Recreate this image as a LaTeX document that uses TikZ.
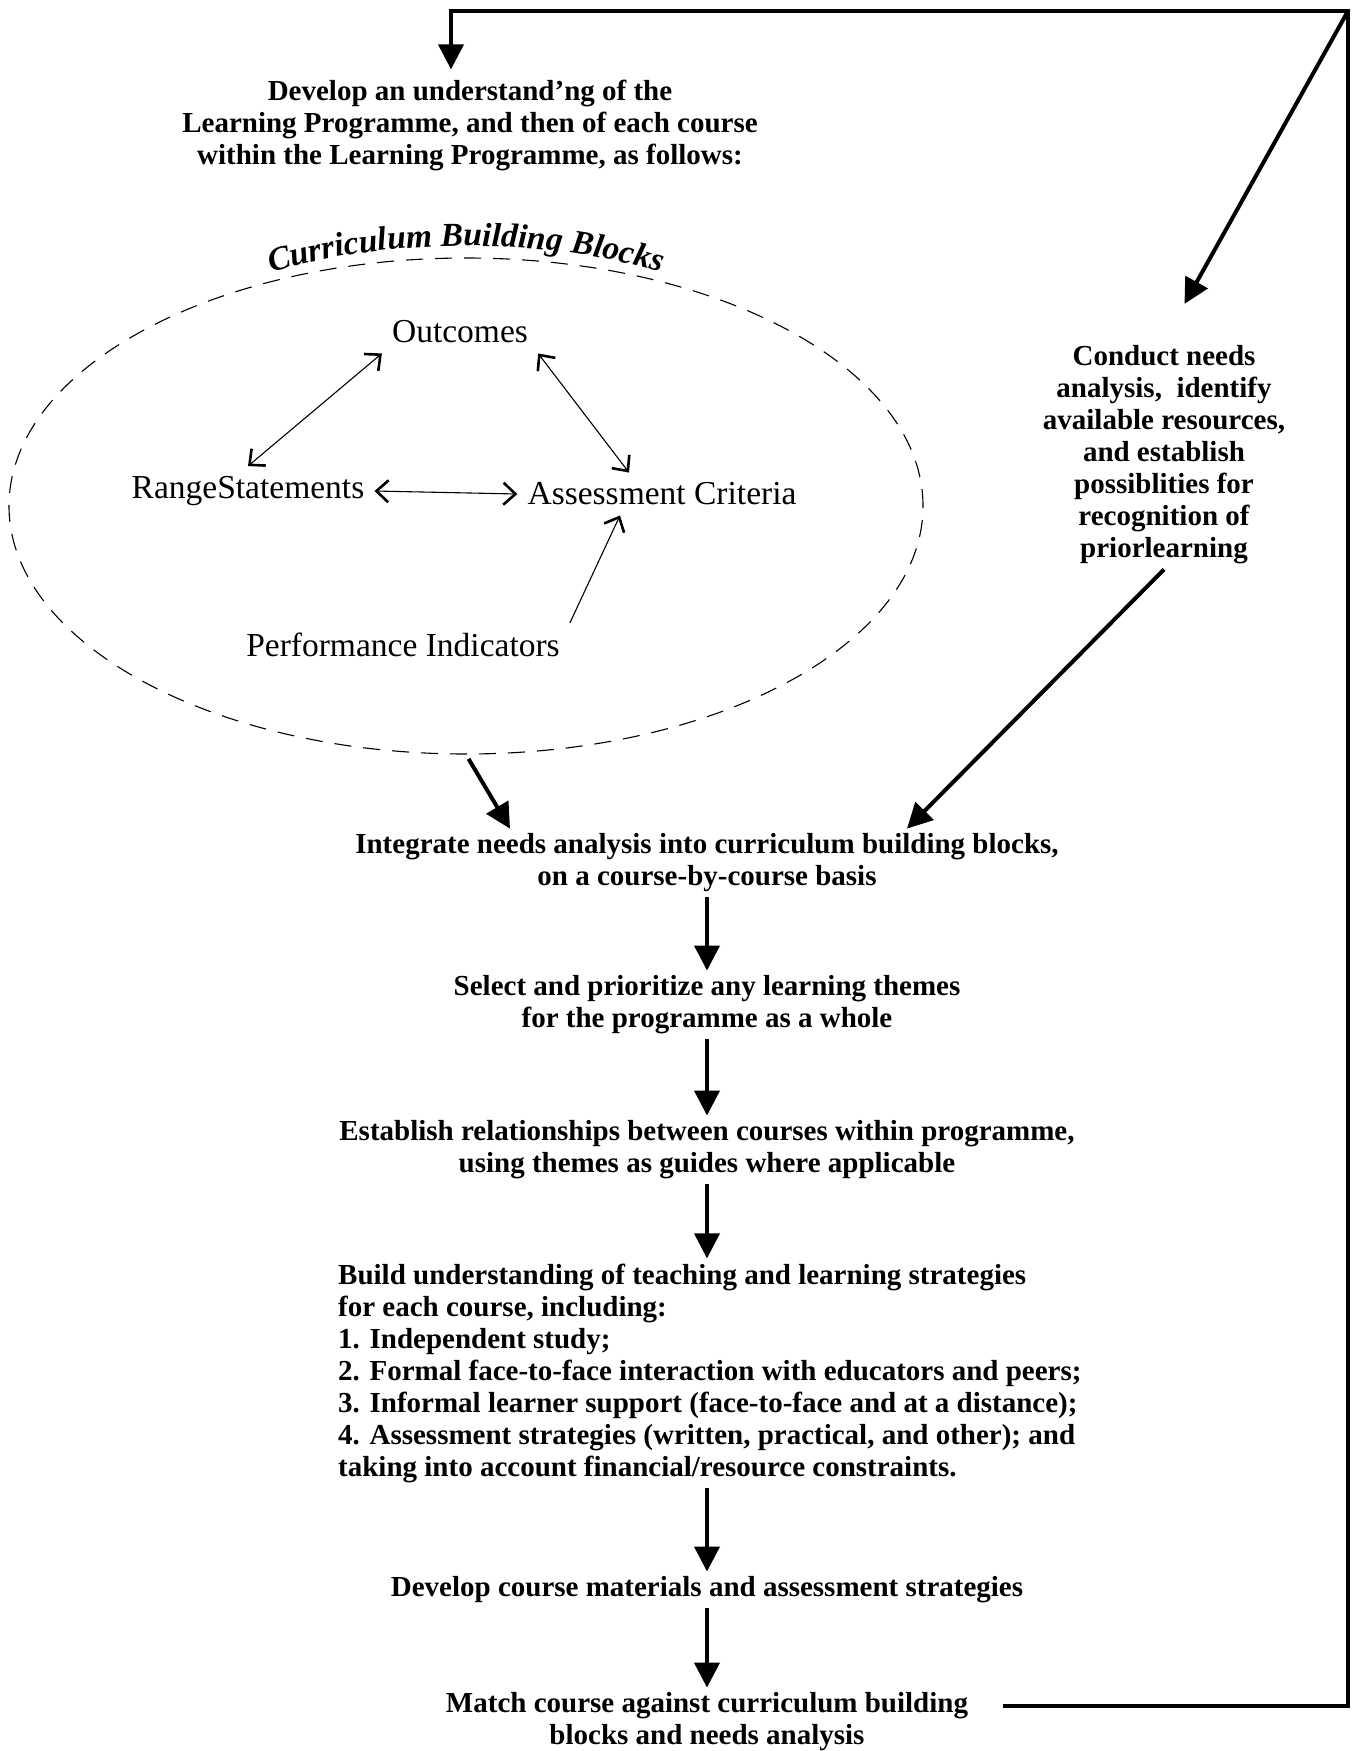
\documentclass[tikz,border=0pt]{standalone}
\usepackage{fontspec}
\setmainfont{Liberation Serif}
\usetikzlibrary{arrows.meta,shapes.geometric,decorations.text}

\tikzset{
  stepnote/.style={font=\fontsize{29}{32}\selectfont\bfseries, align=center, inner sep=5pt},
  block/.style={font=\fontsize{33.5}{40}\selectfont, inner sep=10pt},
  flow/.style={line width=4pt, line join=miter, -{Triangle[length=25pt,width=25pt]}},
  link/.style={line width=1.1pt, {Straight Barb[length=12pt,width=22pt,line width=2.6pt]}-{Straight Barb[length=12pt,width=22pt,line width=2.6pt]}},
  feed/.style={line width=1.1pt, -{Straight Barb[length=12pt,width=22pt,line width=2.6pt]}},
}

\begin{document}
\begin{tikzpicture}[x=1pt,y=-1pt]
  \useasboundingbox (0,0) rectangle (1359,1751);

  % Corners of the feedback loop
  \coordinate (LTL) at (451,11);
  \coordinate (LTR) at (1348,11);
  \coordinate (LBR) at (1348,1706);

  % Opening step
  \node[stepnote] (intro) at (470,125) {Develop an understand'ng of the\\Learning Programme, and then of each course\\within the Learning Programme, as follows:};

  % Curriculum building blocks
  \node[draw, ellipse, dash pattern=on 17pt off 12pt, line width=1.1pt,
        minimum width=914pt, minimum height=496pt] (cbb) at (466,506) {};
  \path[decorate, decoration={text along path, text align=center,
        text={|\fontsize{33.5}{34}\selectfont\bfseries\itshape|Curriculum Building Blocks}}]
        (260,276) .. controls (380,236) and (552,236) .. (672,276);

  \node[block] (outcomes) at (460,332) {Outcomes};
  \node[block] (range) at (248,491) {RangeStatements};
  \node[block] (assess) at (662,494) {Assessment Criteria};
  \node[block] (perf) at (403,645) {Performance Indicators};

  \draw[link] (outcomes.south west) -- (range.north);
  \draw[link] (outcomes.south east) -- ([xshift=-33pt]assess.north);
  \draw[link] (range.east) -- (assess.west);
  \draw[feed] (perf.north east) -- ([xshift=-42pt]assess.south);

  % Needs analysis
  \node[stepnote] (needs) at (1164,455) {Conduct needs\\analysis,\ \ identify\\available resources,\\and establish\\possiblities for\\recognition of\\priorlearning};

  % Main sequence
  \node[stepnote] (integrate) at (707,863) {Integrate needs analysis into curriculum building blocks,\\on a course-by-course basis};
  \node[stepnote] (select) at (707,1005) {Select and prioritize any learning themes\\for the programme as a whole};
  \node[stepnote] (relate) at (707,1150) {Establish relationships between courses within programme,\\using themes as guides where applicable};
  \node[stepnote, align=left, anchor=west] (build) at (333,1373) {Build understanding of teaching and learning strategies\\for each course, including:\\1. Independent study;\\2. Formal face-to-face interaction with educators and peers;\\3. Informal learner support (face-to-face and at a distance);\\4. Assessment strategies (written, practical, and other); and\\taking into account financial/resource constraints.};
  \node[stepnote] (develop) at (707,1590) {Develop course materials and assessment strategies};
  \node[stepnote] (match) at (707,1722) {Match course against curriculum building\\blocks and needs analysis};

  % Arrows
  \draw[flow, shorten <=5pt] (cbb.south) -- ([xshift=-197pt]integrate.north);
  \draw[flow, shorten >=42pt] (LTR) -- (needs.north);
  \draw[flow] (needs.south) -- ([xshift=200pt]integrate.north);
  \draw[flow] (integrate.south) -- (select.north);
  \draw[flow] (select.south) -- (relate.north);
  \draw[flow] (relate.south) -- (relate.south |- build.north);
  \draw[flow] (build.south -| relate.south) -- (develop.north);
  \draw[flow] (develop.south) -- (match.north);

  % Feedback loop
  \draw[flow, shorten >=5pt] ([xshift=30pt,yshift=16pt]match.east) -- (LBR) -- (LTR) -- (LTL) -- (LTL |- intro.north);
\end{tikzpicture}
\end{document}
